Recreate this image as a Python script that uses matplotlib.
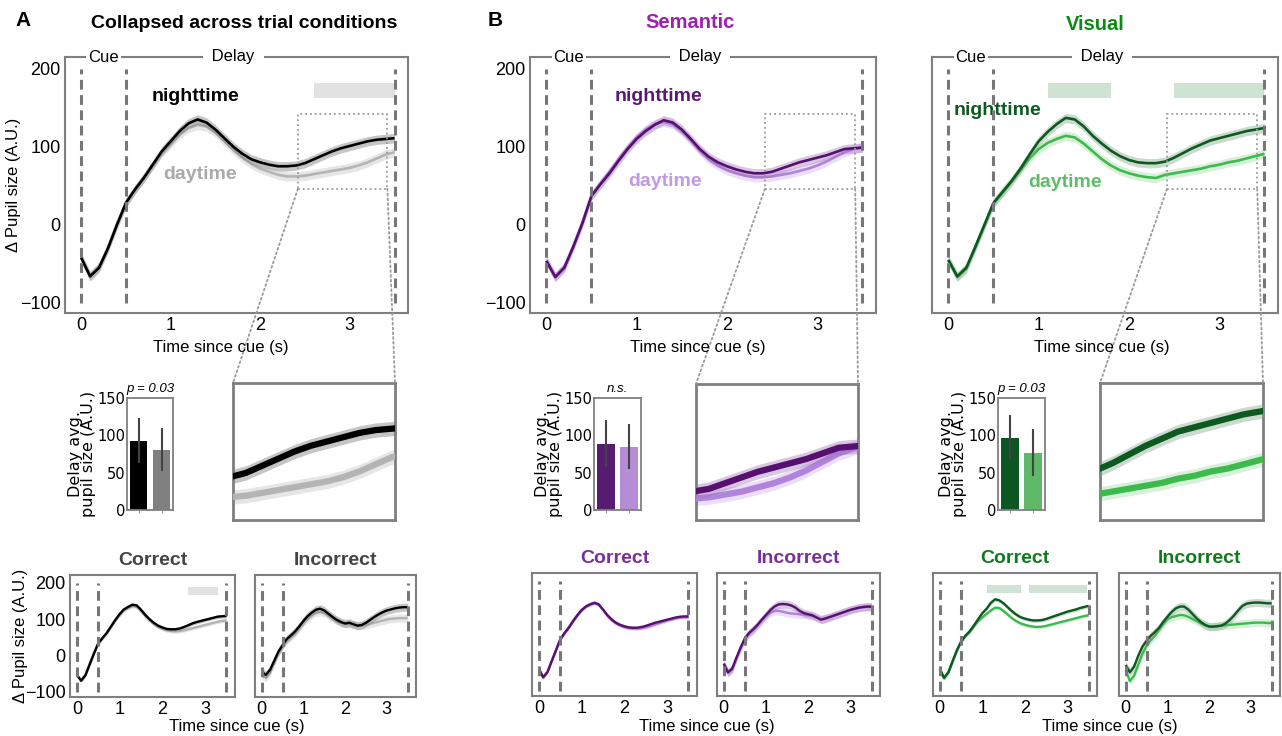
import numpy as np
import matplotlib
matplotlib.use("Agg")
import matplotlib.pyplot as plt
import matplotlib.transforms as mtrans
from matplotlib.patches import Rectangle, ConnectionPatch

plt.rcParams['font.family'] = ['Liberation Sans', 'DejaVu Sans']

# ---- data ----
TIME = [0.0, 0.1, 0.2, 0.3, 0.4, 0.5, 0.6, 0.7, 0.8, 0.9, 1.0, 1.1, 1.2, 1.3, 1.4, 1.5, 1.6, 1.7,
        1.8, 1.9, 2.0, 2.1, 2.2, 2.3, 2.4, 2.5, 2.6, 2.7, 2.8, 2.9, 3.0, 3.1, 3.2, 3.3, 3.4, 3.5]
EVENTS = [0.0, 0.5, 3.5]

# collapsed across trial conditions
A_NIGHT = [-42, -66, -55, -30, 0, 28, 45, 60, 77, 94, 107, 120, 130, 135, 131, 122, 111, 100,
           91, 84, 80, 77, 75, 75, 76, 79, 84, 89, 94, 98, 101, 104, 107, 109, 110, 111]
A_DAY = [-42, -65, -54, -29, 1, 28, 45, 60, 76, 92, 104, 116, 124, 128, 126, 118, 107, 96,
         86, 78, 72, 68, 64, 62, 62, 63, 65, 67, 69, 71, 73, 76, 80, 85, 90, 93]
AC_NIGHT = [-54, -70, -55, -25, 5, 33, 48, 62, 80, 98, 114, 127, 134, 140, 138, 126, 112, 100,
            90, 82, 77, 73, 72, 72, 74, 78, 83, 88, 92, 95, 98, 101, 104, 107, 108, 109]
AC_DAY = [-54, -69, -54, -24, 6, 33, 48, 62, 79, 96, 111, 124, 131, 136, 134, 122, 108, 96,
          86, 78, 73, 69, 67, 66, 67, 69, 72, 75, 78, 81, 84, 87, 90, 93, 95, 97]
AI_NIGHT = [-45, -54, -40, -15, 10, 28, 45, 55, 66, 80, 95, 108, 118, 126, 129, 124, 115, 106,
            98, 92, 88, 90, 86, 82, 84, 90, 98, 106, 113, 119, 124, 127, 130, 132, 133, 133]
AI_DAY = [-55, -62, -48, -20, 5, 26, 42, 52, 62, 76, 90, 102, 112, 118, 120, 117, 110, 102,
          95, 90, 87, 87, 84, 82, 82, 84, 87, 90, 93, 96, 99, 101, 102, 103, 103, 103]

# semantic
S_NIGHT = [-46, -67, -55, -28, 2, 37, 52, 66, 82, 97, 110, 120, 128, 134, 131, 122, 110, 97,
           87, 80, 75, 71, 68, 66, 66, 68, 72, 76, 80, 83, 86, 89, 93, 97, 98, 99]
S_DAY = [-46, -66, -54, -27, 3, 37, 53, 68, 84, 99, 112, 122, 129, 132, 129, 120, 108, 95,
         84, 76, 70, 66, 63, 61, 61, 62, 64, 66, 69, 72, 76, 81, 87, 93, 97, 99]
SC_NIGHT = [-40, -64, -50, -20, 10, 40, 57, 72, 90, 106, 120, 130, 136, 140, 136, 122, 107, 95,
            86, 80, 76, 73, 72, 72, 74, 77, 81, 85, 88, 91, 94, 97, 100, 102, 103, 103]
SC_DAY = [-40, -63, -49, -19, 11, 40, 58, 73, 91, 107, 121, 131, 137, 141, 136, 121, 105, 93,
          84, 78, 74, 71, 70, 70, 71, 73, 76, 80, 84, 88, 92, 95, 98, 100, 101, 101]
SI_NIGHT = [-26, -50, -40, -10, 18, 43, 58, 68, 80, 94, 107, 120, 130, 136, 137, 136, 133, 127,
            118, 112, 109, 106, 100, 94, 97, 101, 105, 109, 113, 117, 121, 124, 127, 129, 130, 130]
SI_DAY = [-30, -52, -42, -12, 16, 40, 55, 66, 78, 92, 104, 113, 118, 118, 116, 113, 111, 110,
          109, 108, 106, 104, 100, 96, 98, 101, 105, 109, 113, 117, 121, 124, 127, 128, 129, 129]

# visual
V_NIGHT = [-45, -66, -55, -28, 0, 28, 42, 56, 72, 90, 107, 119, 129, 137, 135, 126, 114, 104,
           95, 88, 83, 80, 79, 79, 81, 86, 92, 98, 103, 108, 111, 114, 117, 120, 122, 124]
V_DAY = [-45, -67, -56, -29, -1, 27, 41, 55, 70, 85, 97, 105, 110, 114, 112, 104, 94, 84,
         76, 70, 66, 63, 61, 60, 64, 66, 68, 70, 72, 75, 77, 80, 82, 85, 88, 91]
VC_NIGHT = [-40, -65, -50, -20, 10, 34, 50, 62, 78, 95, 112, 124, 140, 150, 147, 139, 128, 117,
            108, 101, 97, 94, 92, 92, 93, 96, 100, 104, 108, 112, 116, 119, 122, 126, 129, 132]
VC_DAY = [-45, -67, -52, -22, 8, 32, 48, 60, 75, 90, 100, 110, 119, 127, 126, 118, 108, 98,
          90, 84, 80, 77, 75, 74, 75, 77, 80, 83, 86, 89, 92, 95, 98, 101, 104, 106]
VI_NIGHT = [-30, -50, -35, -5, 20, 36, 50, 60, 72, 88, 102, 115, 125, 130, 130, 122, 110, 98,
            88, 80, 75, 75, 76, 78, 84, 94, 106, 120, 132, 138, 140, 141, 141, 140, 139, 139]
VI_DAY = [-45, -74, -60, -30, 0, 22, 38, 50, 66, 82, 95, 101, 104, 107, 106, 102, 96, 90,
          84, 79, 76, 76, 77, 78, 79, 80, 81, 82, 83, 84, 85, 86, 86, 86, 85, 85]

# delay-average bars: night, day
A_BAR, A_LO, A_HI = [93, 80], [63, 52], [123, 110]
S_BAR, S_LO, S_HI = [88, 85], [57, 55], [120, 115]
V_BAR, V_LO, V_HI = [97, 76], [68, 46], [127, 108]

# significance windows (s)
A_SIG = [(2.6, 3.5)]
AC_SIG = [(2.6, 3.3)]
V_SIG = [(1.1, 1.8), (2.5, 3.5)]
VC_SIG = [(1.12, 1.9), (2.1, 3.46)]

ZOOM_X = (2.42, 3.42)
ZOOM_Y = (46, 142)

GRAY = {'night': '#000000', 'nb': ('#808080', 0.45), 'day': '#b4b4b4', 'db': ('#cfcfcf', 0.5),
        'bars': ['#000000', '#808080'], 'sig': '#e2e2e2'}
PURP = {'night': '#570f70', 'nb': ('#9e74b4', 0.4), 'day': '#b283dc', 'db': ('#d8bff0', 0.5),
        'bars': ['#571b6f', '#b58cd5'], 'sig': '#e2e2e2'}
GREEN = {'night': '#0c5a1f', 'nb': ('#7fa287', 0.4), 'day': '#3dba4c', 'db': ('#b3e2b7', 0.5),
         'bars': ['#0b5623', '#5db867'], 'sig': '#cfe3d4'}

W, H = 1282, 736
fig = plt.figure(figsize=(W / 100, H / 100), dpi=100)
fig.patch.set_facecolor('white')


def px(x0, y0, x1, y1):
    return fig.add_axes([x0 / W, 1 - y1 / H, (x1 - x0) / W, (y1 - y0) / H])


def draw(ax, night, day, c, lw, sem_n=6, sem_d=6):
    t = np.array(TIME)
    n = np.array(night, float)
    d = np.array(day, float)
    ax.fill_between(t, d - sem_d, d + sem_d, color=c['db'][0], alpha=c['db'][1], lw=0, zorder=2)
    ax.plot(t, d, color=c['day'], lw=lw, zorder=3, solid_capstyle='butt')
    ax.fill_between(t, n - sem_n, n + sem_n, color=c['nb'][0], alpha=c['nb'][1], lw=0, zorder=4)
    ax.plot(t, n, color=c['night'], lw=lw, zorder=5, solid_capstyle='butt')


def frame(ax, lw=1.5):
    for s in ax.spines.values():
        s.set_color('#7f7f7f')
        s.set_linewidth(lw)


def trace_axes(ax, xlim, ylim, show_y, fs, sig, c, sig_y):
    ax.set_xlim(*xlim)
    ax.set_ylim(*ylim)
    frame(ax)
    ax.set_xticks([0, 1, 2, 3])
    ax.set_yticks([-100, 0, 100, 200])
    ax.tick_params(length=0, labelsize=fs, pad=3)
    ax.set_yticklabels(['\u2212100', '0', '100', '200'] if show_y else [])
    for e in EVENTS:
        ax.plot([e, e], [-100, 200], ls=(0, (3.2, 1.8)), color='#777777', lw=2.2, zorder=6)
    for a, b in sig:
        ax.fill_between([a, b], sig_y[0], sig_y[1], color=c['sig'], lw=0, zorder=1)


def main_panel(rect, night, day, c, show_y, sig, txt):
    ax = px(*rect)
    draw(ax, night, day, c, 1.9)
    trace_axes(ax, (-0.18, 3.65), (-113, 215), show_y, 13, sig, c, (162, 182))
    tr = mtrans.blended_transform_factory(ax.transData, ax.transAxes)
    ax.text(0.25, 1.0, 'Cue', transform=tr, ha='center', va='center', fontsize=12, zorder=10,
            bbox=dict(fc='white', ec='none', pad=1.5), clip_on=False)
    ax.text(1.7, 1.0, ' Delay ', transform=tr, ha='center', va='center', fontsize=12, zorder=10,
            bbox=dict(fc='white', ec='none', pad=3), clip_on=False)
    (nx, ny, ncol), (dx, dy, dcol) = txt
    ax.text(nx, ny, 'nighttime', color=ncol, fontsize=14, fontweight='bold', ha='center', va='center')
    ax.text(dx, dy, 'daytime', color=dcol, fontsize=14, fontweight='bold', ha='center', va='center')
    ax.add_patch(Rectangle((ZOOM_X[0], ZOOM_Y[0]), ZOOM_X[1] - ZOOM_X[0], ZOOM_Y[1] - ZOOM_Y[0],
                           fill=False, ec='#9a9a9a', ls=':', lw=1.3, zorder=7))
    return ax


def zoom_panel(rect, main, night, day, c):
    ax = px(*rect)
    draw(ax, night, day, c, 4.5, 5, 5)
    ax.set_xlim(*ZOOM_X)
    ax.set_ylim(*ZOOM_Y)
    ax.set_xticks([])
    ax.set_yticks([])
    frame(ax, 2)
    for xa, xb in [((ZOOM_X[0], ZOOM_Y[0]), (0, 1)), ((ZOOM_X[1], ZOOM_Y[0]), (1, 1))]:
        con = ConnectionPatch(xyA=xa, coordsA='data', axesA=main, xyB=xb, coordsB='axes fraction',
                              axesB=ax, color='#9a9a9a', ls=':', lw=1.3)
        fig.add_artist(con)


def bar_panel(rect, vals, lo, hi, c, label):
    ax = px(*rect)
    x = [0, 1]
    ax.bar(x, vals, width=0.78, color=c['bars'])
    v = np.array(vals)
    ax.errorbar(x, vals, yerr=[v - np.array(lo), np.array(hi) - v], fmt='none', ecolor='#444444',
                elinewidth=1.5, capsize=0)
    ax.set_xlim(-0.5, 1.5)
    ax.set_ylim(0, 150)
    ax.set_yticks([0, 50, 100, 150])
    ax.set_xticks(x)
    ax.set_xticklabels([])
    ax.tick_params(axis='y', length=0, labelsize=10.5, pad=1, labelfontfamily='DejaVu Sans')
    ax.tick_params(axis='x', length=2.5, color='#999999')
    frame(ax, 1.3)
    ax.set_ylabel('Delay avg.\npupil size (A.U.)', fontsize=11.5, labelpad=1, linespacing=0.85,
                  family='DejaVu Sans')
    ax.set_title(label, fontsize=9.5, style='italic', pad=4)
    return ax


def bottom_pair(rects, cn, cd, inn, ind, c, show_y, sig, title_col, xlab_x):
    axes = []
    for rect, n, d, title, sg in zip(rects, [cn, inn], [cd, ind], ['Correct', 'Incorrect'], [sig, []]):
        ax = px(*rect)
        err = 5 if title == 'Correct' else 11
        draw(ax, n, d, c, 1.7, err, err)
        trace_axes(ax, (-0.16, 3.7), (-115, 222), show_y and title == 'Correct', 13, sg, c, (168, 190))
        ax.set_title(title, fontsize=14, fontweight='bold', color=title_col, pad=7)
        axes.append(ax)
    fig.text(xlab_x / W, 1 - 727 / H, 'Time since cue (s)', ha='center', va='center', fontsize=12)
    return axes


# ---- panel A ----
fig.text(15 / W, 1 - 20 / H, 'A', fontsize=15, fontweight='bold', ha='left', va='center')
fig.text(244 / W, 1 - 23 / H, 'Collapsed across trial conditions', fontsize=14, fontweight='bold',
         ha='center', va='center')
axA = main_panel((65, 57, 408, 313), A_NIGHT, A_DAY, GRAY, True, A_SIG,
                 ((1.28, 164, '#000000'), (1.33, 64, '#aaaaaa')))
axA.set_ylabel('\u0394 Pupil size (A.U.)', fontsize=12, labelpad=-1)
fig.text(221 / W, 1 - 347 / H, 'Time since cue (s)', ha='center', va='center', fontsize=12)
bar_panel((127, 398, 173, 510), A_BAR, A_LO, A_HI, GRAY, 'p = 0.03')
zoom_panel((233, 383, 395, 520), axA, A_NIGHT, A_DAY, GRAY)
bA = bottom_pair([(70, 575, 235, 697), (255, 575, 416, 697)], AC_NIGHT, AC_DAY, AI_NIGHT, AI_DAY,
                 GRAY, True, AC_SIG, '#444444', 237)
bA[0].set_ylabel('\u0394 Pupil size (A.U.)', fontsize=12, labelpad=-2)

# ---- panel B: semantic ----
fig.text(488 / W, 1 - 20 / H, 'B', fontsize=15, fontweight='bold', ha='left', va='center')
fig.text(690 / W, 1 - 23 / H, 'Semantic', fontsize=14.5, fontweight='bold', color='#a11eb2',
         ha='center', va='center')
axS = main_panel((530, 57, 876, 313), S_NIGHT, S_DAY, PURP, True, [],
                 ((1.24, 164, '#5a1878'), (1.32, 56, '#c299e2')))
fig.text(698 / W, 1 - 347 / H, 'Time since cue (s)', ha='center', va='center', fontsize=12)
bar_panel((594, 398, 641, 510), S_BAR, S_LO, S_HI, PURP, 'n.s.')
zoom_panel((696, 384, 858, 520), axS, S_NIGHT, S_DAY, PURP)
bottom_pair([(532, 573, 697, 696), (717, 573, 880, 696)], SC_NIGHT, SC_DAY, SI_NIGHT, SI_DAY,
            PURP, False, [], '#7a2f96', 707)

# ---- visual ----
fig.text(1095 / W, 1 - 25 / H, 'Visual', fontsize=14.5, fontweight='bold', color='#0b8a14',
         ha='center', va='center')
axV = main_panel((932, 57, 1278, 313), V_NIGHT, V_DAY, GREEN, False, V_SIG,
                 ((0.54, 147, '#0e5a23'), (1.29, 54, '#5ebe68')))
fig.text(1102 / W, 1 - 347 / H, 'Time since cue (s)', ha='center', va='center', fontsize=12)
bar_panel((998, 398, 1045, 510), V_BAR, V_LO, V_HI, GREEN, 'p = 0.03')
zoom_panel((1100, 383, 1263, 520), axV, V_NIGHT, V_DAY, GREEN)
bottom_pair([(933, 573, 1097, 696), (1119, 573, 1280, 696)], VC_NIGHT, VC_DAY, VI_NIGHT, VI_DAY,
            GREEN, False, VC_SIG, '#127a1e', 1110)

fig.savefig('out.png', dpi=100, facecolor='white')
